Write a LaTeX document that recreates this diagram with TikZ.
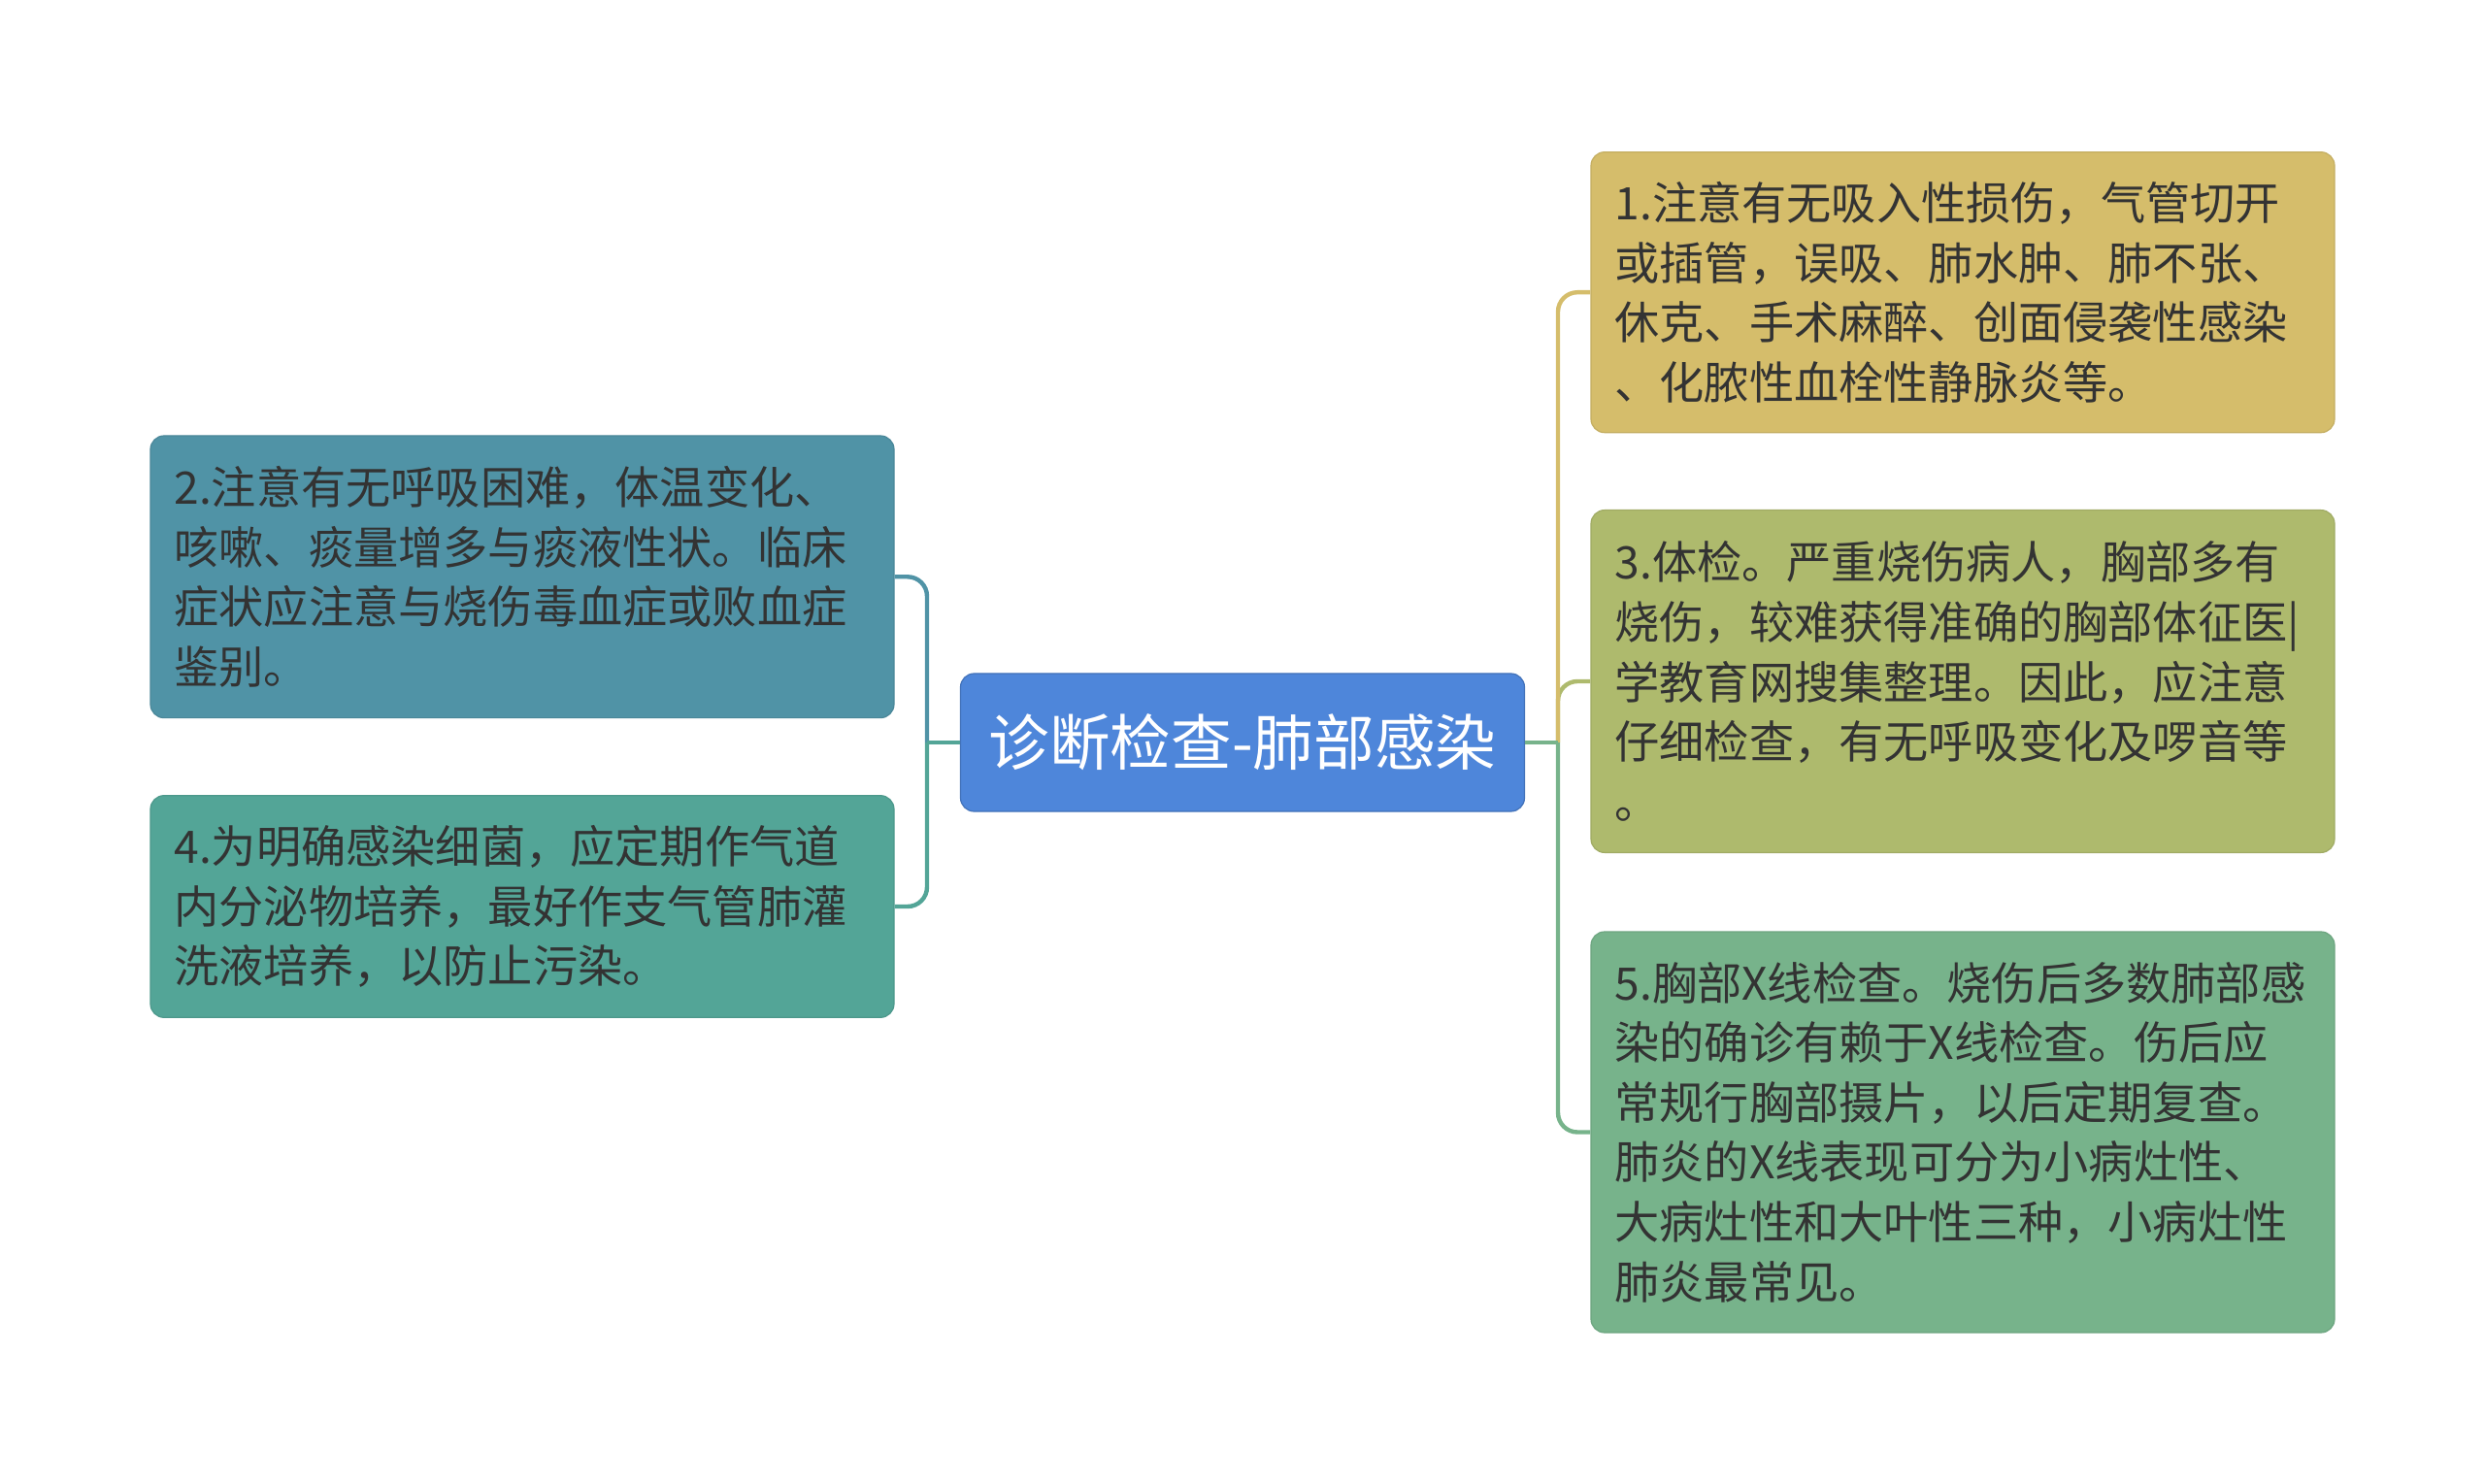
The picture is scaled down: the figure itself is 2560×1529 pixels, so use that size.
\documentclass[tikz,border=0pt]{standalone}
\usepackage{fontspec}
\setmainfont{Noto Sans CJK SC}
\definecolor{rootblue}{HTML}{4E86DA}
\definecolor{leafyellow}{HTML}{D5BD6B}
\definecolor{leafolive}{HTML}{AEBA6D}
\definecolor{leafgreen}{HTML}{77B38B}
\definecolor{leafblue}{HTML}{5093A6}
\definecolor{leafteal}{HTML}{53A597}
\definecolor{leaftext}{HTML}{333333}
\tikzset{
  root/.style = {
    rounded corners=7pt,
    fill=rootblue,
    draw=rootblue!85!black,
    line width=0.6pt,
    text=white,
    font=\fontsize{31.3}{38}\selectfont,
    minimum width=290.5pt,
    minimum height=71pt
  },
  leaf/.style = {
    rounded corners=7pt,
    line width=0.6pt,
    text=leaftext,
    font=\fontsize{23.1}{30.8}\selectfont,
    align=left,
    text width=358.5pt,
    inner xsep=12.25pt
  },
  branch/.style = {line width=2.2pt}
}

\begin{document}
\begin{tikzpicture}[x=0.5pt,y=-0.5pt]
  \useasboundingbox (0,0) rectangle (2560,1529);
  % root
  \node[root] (root) at (1280,765) {诊断检查-肺部感染};
  % right side
  \node[leaf,fill=leafyellow,draw=leafyellow!92!black,minimum height=144.5pt] (b1) at (2022,301.2)
    {1.注意有无吸入性损伤，气管切开\\或插管，误吸、肺水肿、肺不张、\\休克、手术麻醉、创面侵袭性感染\\、化脓性血栓性静脉炎等。};
  \node[leaf,fill=leafolive,draw=leafolive!92!black,minimum height=176.4pt] (b3) at (2022,702)
    {3.体检。严重烧伤病人，胸部多有\\烧伤，较难获得准确的胸部体征医|\\学教育网搜集整理。因此，应注意\\仔细检查，有无呼吸变化及啰音等\\。};
  \node[leaf,fill=leafgreen,draw=leafgreen!92!black,minimum height=206.5pt] (b5) at (2022,1166.5)
    {5.胸部X线检查。烧伤后多数肺部感\\染的确诊有赖于X线检查。伤后应\\常规行胸部摄片，以后定期复查。\\肺炎的X线表现可分为小病灶性、\\大病灶性和大叶性三种，小病灶性\\肺炎最常见。};
  % left side
  \node[leaf,fill=leafblue,draw=leafblue!92!black,minimum height=145.3pt] (b2) at (538,594.3)
    {2.注意有无呼吸困难，体温变化、\\咳嗽、痰量增多与痰液性状。临床\\症状应注意与烧伤毒血症或败血症\\鉴别。};
  \node[leaf,fill=leafteal,draw=leafteal!92!black,minimum height=114.3pt] (b4) at (538,934)
    {4.为明确感染细菌，应定期作气道\\内分泌物培养，最好作支气管肺灌\\洗液培养，以防止污染。};
  % connectors
  \coordinate (rj) at (1605,765);
  \coordinate (lj) at (955,765);
  \foreach \leafname/\col in {b3/leafolive,b1/leafyellow,b5/leafgreen} {%
    \draw[branch,\col] (root.east) -- (rj);
    \draw[branch,\col,rounded corners=10pt] (rj) |- (\leafname.west);
  }
  \foreach \leafname/\col in {b2/leafblue,b4/leafteal} {%
    \draw[branch,\col] (root.west) -- (lj);
    \draw[branch,\col,rounded corners=10pt] (lj) |- (\leafname.east);
  }
\end{tikzpicture}
\end{document}
